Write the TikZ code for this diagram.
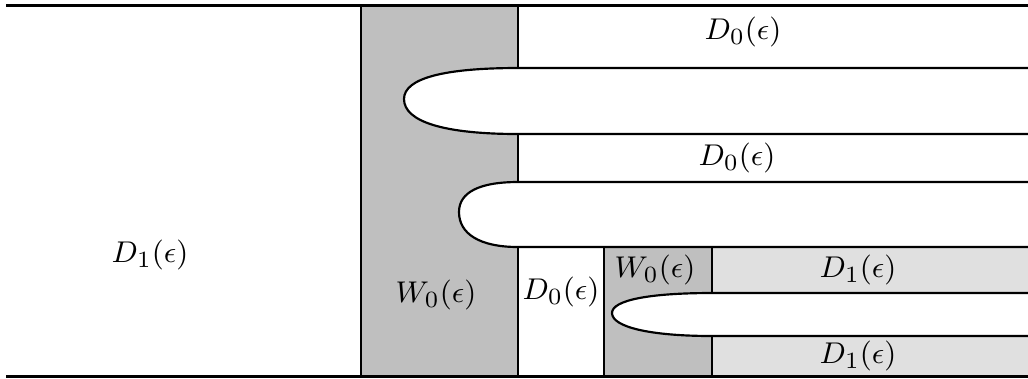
\documentclass[tikz,border=0pt]{standalone}
\usepackage{tikz}
\definecolor{wgray}{gray}{0.75}
\definecolor{dgray}{gray}{0.88}
\tikzset{
  edge/.style={line width=0.65pt, black},
  rim/.style={line width=0.9pt, black},
  lbl/.style={inner sep=0pt, font=\fontsize{9.4}{11}\selectfont}
}
\begin{document}
\begin{tikzpicture}[x=0.3pt, y=-0.3pt]
\useasboundingbox (0,0) rectangle (1028,378);
% fills
\fill[wgray] (361,5) rectangle (518,376);
\fill[wgray] (604,247) rectangle (712,376);
\fill[dgray] (712,247) rectangle (1028,293);
\fill[dgray] (712,336) rectangle (1028,376);
% fingers (white)
\fill[white] (1028,68) -- (518,68) .. controls (445,68) and (404,78) .. (404,99) .. controls (404,122) and (445,134) .. (518,134) -- (1028,134) -- cycle;
\fill[white] (1028,182) -- (518,182) .. controls (480,182) and (459,192) .. (459,212) .. controls (459,234) and (480,247) .. (518,247) -- (1028,247) -- cycle;
\fill[white] (1028,293) -- (712,293) .. controls (650,293) and (612,300) .. (612,313) .. controls (612,327) and (650,336) .. (712,336) -- (1028,336) -- cycle;
% finger outlines
\draw[edge] (1028,68) -- (518,68) .. controls (445,68) and (404,78) .. (404,99) .. controls (404,122) and (445,134) .. (518,134) -- (1028,134);
\draw[edge] (1028,182) -- (518,182) .. controls (480,182) and (459,192) .. (459,212) .. controls (459,234) and (480,247) .. (518,247) -- (1028,247);
\draw[edge] (1028,293) -- (712,293) .. controls (650,293) and (612,300) .. (612,313) .. controls (612,327) and (650,336) .. (712,336) -- (1028,336);
% verticals
\draw[edge] (361,5) -- (361,376);
\draw[edge] (518,5) -- (518,68);
\draw[edge] (518,134) -- (518,182);
\draw[edge] (518,247) -- (518,376);
\draw[edge] (604,247) -- (604,376);
\draw[edge] (712,247) -- (712,293);
\draw[edge] (712,336) -- (712,376);
% rims
\draw[rim] (6,5) -- (1028,5);
\draw[rim] (6,376) -- (1028,376);
% labels
\node[lbl] (d0a) at (743,32) {$D_0(\epsilon)$};
\node[lbl] (d0b) at (737,158) {$D_0(\epsilon)$};
\node[lbl] (d1l) at (150,255) {$D_1(\epsilon)$};
\node[lbl] (w0a) at (436,295) {$W_0(\epsilon)$};
\node[lbl] (d0c) at (561,292) {$D_0(\epsilon)$};
\node[lbl] (w0b) at (655,270) {$W_0(\epsilon)$};
\node[lbl] (d1a) at (858,270) {$D_1(\epsilon)$};
\node[lbl] (d1b) at (858,356) {$D_1(\epsilon)$};
\end{tikzpicture}
\end{document}
